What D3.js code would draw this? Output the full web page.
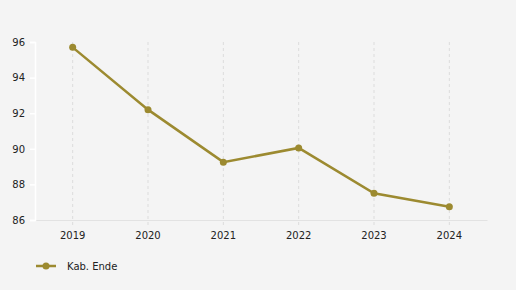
<!DOCTYPE html>
<html>
<head>
<meta charset="utf-8">
<script src="https://cdn.jsdelivr.net/npm/d3@7"></script>
<style>
  body { margin: 0; background: #f4f4f4; }
  svg { display: block; }
  text { font-family: "DejaVu Sans", Verdana, sans-serif; font-size: 10px; fill: #222; }
</style>
</head>
<body>
<div id="chart"></div>
<script>
var years = ["2019", "2020", "2021", "2022", "2023", "2024"];
var values = [95.7, 92.2, 89.25, 90.05, 87.5, 86.75];
var yTicks = [86, 88, 90, 92, 94, 96];
var seriesName = "Kab. Ende";

var w = 516, h = 290;
var color = "#9c8a30";
var plotLeft = 35, plotRight = 487, plotTop = 42, plotBottom = 220;

var svg = d3.select("#chart").append("svg")
    .attr("width", w)
    .attr("height", h);

svg.append("rect").attr("width", w).attr("height", h).attr("fill", "#f4f4f4");

var x = d3.scaleBand().domain(years).range([plotLeft, plotRight]).padding(0);
var y = d3.scaleLinear().domain([86, 96]).range([plotBottom, plotTop]);

// vertical dashed grid
svg.selectAll(".grid")
    .data(years)
    .enter().append("line")
    .attr("x1", d => x(d) + x.bandwidth() / 2)
    .attr("x2", d => x(d) + x.bandwidth() / 2)
    .attr("y1", plotTop)
    .attr("y2", plotBottom + 5)
    .attr("stroke", "#dcdcdc")
    .attr("stroke-dasharray", "3,3");

// x axis
var xAxis = svg.append("g")
    .attr("transform", `translate(0,${plotBottom})`)
    .call(d3.axisBottom(x).tickSize(0).tickPadding(12));
xAxis.select(".domain").attr("stroke", "#e2e2e2");
xAxis.selectAll("text").style("font-size", "10px");

// y axis
var yAxis = svg.append("g")
    .attr("transform", `translate(${plotLeft},0)`)
    .call(d3.axisLeft(y).tickValues(yTicks).tickSize(5).tickPadding(5));
yAxis.select(".domain").attr("stroke", "#ffffff").attr("stroke-width", 1.5);
yAxis.selectAll(".tick line").attr("stroke", "#ffffff").attr("stroke-width", 1.5);
yAxis.selectAll("text").style("font-size", "10px");

var pts = years.map((d, i) => ({ year: d, v: values[i] }));

var line = d3.line()
    .x(d => x(d.year) + x.bandwidth() / 2)
    .y(d => y(d.v));

svg.append("path")
    .datum(pts)
    .attr("d", line)
    .attr("fill", "none")
    .attr("stroke", color)
    .attr("stroke-width", 2.5);

svg.selectAll(".dot")
    .data(pts)
    .enter().append("circle")
    .attr("cx", d => x(d.year) + x.bandwidth() / 2)
    .attr("cy", d => y(d.v))
    .attr("r", 3.5)
    .attr("fill", color);

// legend
var lg = svg.append("g").attr("transform", "translate(36,266)");
lg.append("line").attr("x1", 0).attr("x2", 20).attr("y1", 0).attr("y2", 0)
    .attr("stroke", color).attr("stroke-width", 2.5);
lg.append("circle").attr("cx", 10).attr("cy", 0).attr("r", 3.5).attr("fill", color);
lg.append("text").attr("x", 31).attr("y", 0).attr("dy", "0.35em").text(seriesName);
</script>
</body>
</html>
